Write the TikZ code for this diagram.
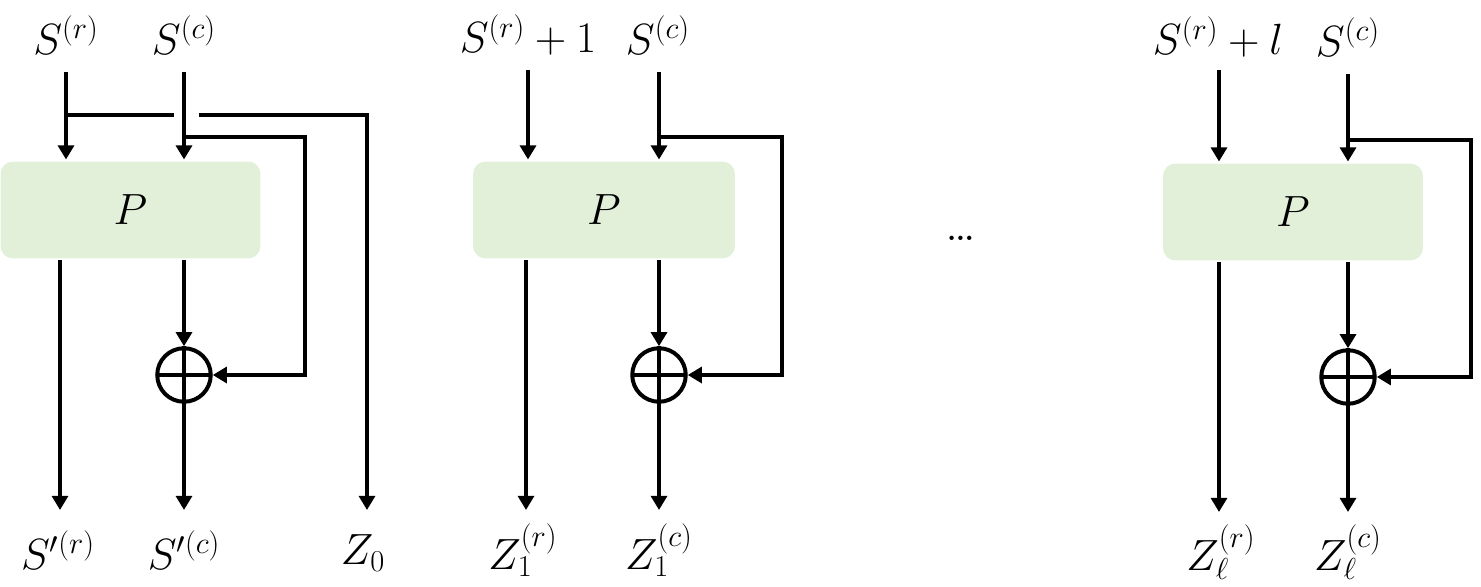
\documentclass[tikz,border=0pt]{standalone}
\usetikzlibrary{arrows.meta,positioning}
\definecolor{boxgreen}{HTML}{E2F0D9}
\begin{document}
\begin{tikzpicture}[x=0.02cm,y=-0.02cm,line width=0.08cm,
	>={Triangle[width=9pt,length=8pt]},
	perm node/.style = {fill=boxgreen,rounded corners=0.25cm,minimum width=5.2cm,
		minimum height=1.94cm,inner sep=0pt,font=\fontsize{31}{36}\selectfont},
	xor node/.style = {circle,draw,inner sep=0pt,minimum size=1.07cm,
		path picture={\draw[line width=0.08cm] (path picture bounding box.west) -- (path picture bounding box.east);}},
	label node/.style = {inner sep=0pt,font=\fontsize{23}{27}\selectfont}]
	
	\useasboundingbox (0,0) rectangle (1481,587);
	
	% first block
	\node[perm node] (p1) at (130.5,210) {$P$};
	\node[xor node] (x1) at (184,375) {};
	\node[label node] (in1r) at (66,35) {$S^{(r)}$};
	\node[label node] (in1c) at (184,35) {$S^{(c)}$};
	\node[label node] (out1r) at (58,550) {$S'^{(r)}$};
	\node[label node] (out1c) at (184,550) {$S'^{(c)}$};
	\node[label node] (z0) at (363,553) {$Z_0$};
	\coordinate (s1r) at (66,72);
	\coordinate (s1c) at (184,72);
	\coordinate (b1r) at (66,115);
	\coordinate (h1a) at (174,115);
	\coordinate (h1b) at (199,115);
	\coordinate (b1c) at (184,137);
	\coordinate (e1r) at (60,510);
	\coordinate (e1c) at (184,510);
	\coordinate (e1z) at (367,510);
	
	\draw[->] (s1r) -- (s1r |- p1.north);
	\draw[->] (s1c) -- (s1c |- p1.north);
	\draw (b1r) -- (h1a);
	\draw[->] (h1b) -| (e1z);
	\draw[->] (b1c) -- ++(121,0) |- (x1.east);
	\draw[->] (e1r |- p1.south) -- (e1r);
	\draw (x1.north) -- (x1.south);
	\draw[->] (x1 |- p1.south) -- (x1.north);
	\draw[->] (x1.south) -- (e1c);
	
	% second block
	\node[perm node,minimum width=5.24cm] (p2) at (604,210) {$P$};
	\node[xor node] (x2) at (659,375) {};
	\node[label node] (in2r) at (528,35) {$S^{(r)}+1$};
	\node[label node] (in2c) at (658,35) {$S^{(c)}$};
	\node[label node] (out2r) at (523,550) {$Z_1^{(r)}$};
	\node[label node] (out2c) at (659,550) {$Z_1^{(c)}$};
	\coordinate (s2r) at (528,70);
	\coordinate (s2c) at (659,72);
	\coordinate (b2c) at (659,137);
	\coordinate (e2r) at (526,510);
	\coordinate (e2c) at (659,510);
	
	\draw[->] (s2r) -- (s2r |- p2.north);
	\draw[->] (s2c) -- (s2c |- p2.north);
	\draw[->] (b2c) -- ++(123,0) |- (x2.east);
	\draw[->] (e2r |- p2.south) -- (e2r);
	\draw (x2.north) -- (x2.south);
	\draw[->] (x2 |- p2.south) -- (x2.north);
	\draw[->] (x2.south) -- (e2c);
	
	\node[label node,font=\fontsize{30}{34}\selectfont] (dots) at (961,238) {\ldots};
	
	% last block
	\node[perm node] (p3) at (1293,212) {$P$};
	\node[xor node] (x3) at (1348,377) {};
	\node[label node] (in3r) at (1218,37) {$S^{(r)}+l$};
	\node[label node] (in3c) at (1348,37) {$S^{(c)}$};
	\node[label node] (out3r) at (1221,552) {$Z_\ell^{(r)}$};
	\node[label node] (out3c) at (1348,552) {$Z_\ell^{(c)}$};
	\coordinate (s3r) at (1219,70);
	\coordinate (s3c) at (1348,74);
	\coordinate (b3c) at (1348,140);
	\coordinate (e3r) at (1219,512);
	\coordinate (e3c) at (1348,512);
	
	\draw[->] (s3r) -- (s3r |- p3.north);
	\draw[->] (s3c) -- (s3c |- p3.north);
	\draw[->] (b3c) -- ++(123,0) |- (x3.east);
	\draw[->] (e3r |- p3.south) -- (e3r);
	\draw (x3.north) -- (x3.south);
	\draw[->] (x3 |- p3.south) -- (x3.north);
	\draw[->] (x3.south) -- (e3c);
\end{tikzpicture}
\end{document}
